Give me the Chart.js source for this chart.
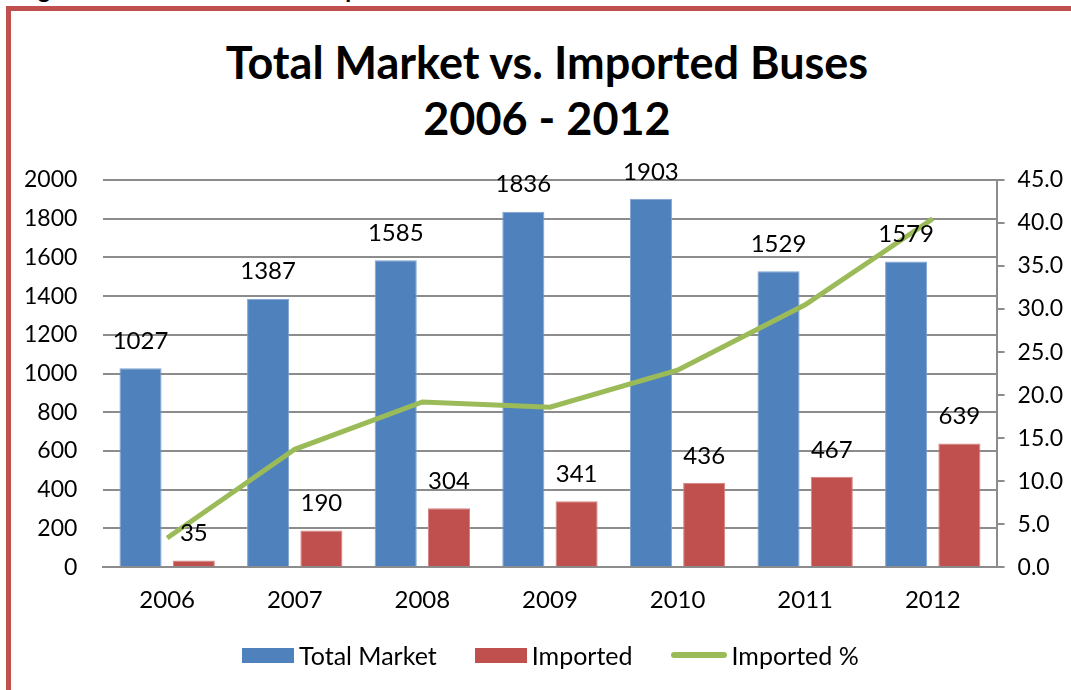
<!DOCTYPE html>
<html>
<head>
<meta charset="utf-8">
<script src="https://cdn.jsdelivr.net/npm/chart.js@4"></script>
<style>
  html, body { margin: 0; padding: 0; background: #fff; overflow: hidden; }
  body { width: 1071px; height: 690px; position: relative; font-family: Lato, sans-serif; }
  .frame { position: absolute; left: 6px; top: 6px; width: 1200px; height: 800px; border: 5px solid #C0504D; box-sizing: border-box; }
  .caption { position: absolute; left: 16px; top: -26px; font: bold 24px Lato, sans-serif; letter-spacing: 1px; color: #000; white-space: nowrap; }
  #wrap { position: absolute; left: 0; top: 0; width: 1071px; height: 690px; }
  .title { position: absolute; left: 0; top: 34px; width: 1094px; text-align: center; font: bold 45px/56px Lato, sans-serif; color: #000; }
  .legend { position: absolute; left: 242px; top: 640px; display: flex; align-items: center; font: 25px/30px Lato, sans-serif; color: #000; white-space: nowrap; }
  .legend .item { display: flex; align-items: center; margin-right: 38px; }
  .legend .swatch { width: 52px; height: 15px; margin-right: 5px; }
  .legend .swatch.line { width: 56px; height: 6px; border-radius: 3px; }
</style>
</head>
<body>
<div class="caption">Figure 6: Total Market vs. Imported Buses</div>
<div class="frame"></div>
<div class="title">Total Market vs. Imported Buses<br>2006 - 2012</div>
<div id="wrap"><canvas id="chart"></canvas></div>
<div class="legend" id="legend"></div>
<script>
// values
const years = ['2006', '2007', '2008', '2009', '2010', '2011', '2012'];
const totalMarket = [1027, 1387, 1585, 1836, 1903, 1529, 1579];
const imported = [35, 190, 304, 341, 436, 467, 639];
const importedPct = [3.4, 13.7, 19.2, 18.6, 22.9, 30.5, 40.5];

const FONT = 'Lato, sans-serif';
const GRID = '#8c8c8c';

// draw the numbers above each bar (no datalabels plugin here)
const barLabels = {
  id: 'barLabels',
  afterDatasetsDraw(chart) {
    const ctx = chart.ctx;
    ctx.save();
    ctx.font = '24px ' + FONT;
    ctx.fillStyle = '#000';
    ctx.textAlign = 'center';
    ctx.textBaseline = 'middle';
    [0, 1].forEach(i => {
      const meta = chart.getDatasetMeta(i);
      meta.data.forEach((bar, j) => {
        ctx.fillText(String(chart.data.datasets[i].data[j]), bar.x, bar.y - 27);
      });
    });
    ctx.restore();
  }
};

const chart = new Chart(document.getElementById('chart'), {
  type: 'bar',
  data: {
    labels: years,
    datasets: [
      {
        label: 'Total Market', data: totalMarket, yAxisID: 'y', order: 2,
        backgroundColor: '#4F81BD', borderColor: '#7FA3D0', borderWidth: 1,
        categoryPercentage: 0.835, barPercentage: 0.79
      },
      {
        label: 'Imported', data: imported, yAxisID: 'y', order: 2,
        backgroundColor: '#C0504D', borderColor: '#D48381', borderWidth: 1,
        categoryPercentage: 0.835, barPercentage: 0.79
      },
      {
        type: 'line', label: 'Imported %', data: importedPct, yAxisID: 'y1', order: 1,
        borderColor: '#9BBB59', backgroundColor: '#9BBB59', borderWidth: 5,
        pointRadius: 0, tension: 0
      }
    ]
  },
  options: {
    responsive: true, maintainAspectRatio: false, animation: false,
    layout: { padding: { left: -2, right: -5, top: 180, bottom: 56 } },
    plugins: {
      legend: { display: false },
      tooltip: { enabled: false }
    },
    scales: {
      x: {
        grid: { display: false, drawTicks: false },
        border: { display: true, color: GRID, width: 2 },
        ticks: { color: '#000', font: { family: FONT, size: 24 }, padding: 19 }
      },
      y: {
        position: 'left', min: 0, max: 2000,
        grid: { color: GRID, lineWidth: 2, drawTicks: false },
        border: { display: false },
        ticks: { stepSize: 200, color: '#000', font: { family: FONT, size: 23 }, padding: 26, callback: v => String(v) }
      },
      y1: {
        position: 'right', min: 0, max: 45,
        grid: { drawOnChartArea: false, drawTicks: true, tickLength: 8, color: GRID, lineWidth: 2 },
        border: { display: true, color: GRID, width: 2 },
        ticks: { stepSize: 5, color: '#000', font: { family: FONT, size: 23 }, padding: 13, callback: v => v.toFixed(1) }
      }
    }
  },
  plugins: [barLabels]
});

// html legend built from the datasets
document.getElementById('legend').innerHTML = chart.data.datasets.map(ds => `
  <div class="item">
    <span class="swatch ${ds.type === 'line' ? 'line' : ''}" style="background:${ds.backgroundColor}"></span>
    <span>${ds.label}</span>
  </div>`).join('');
</script>
</body>
</html>
